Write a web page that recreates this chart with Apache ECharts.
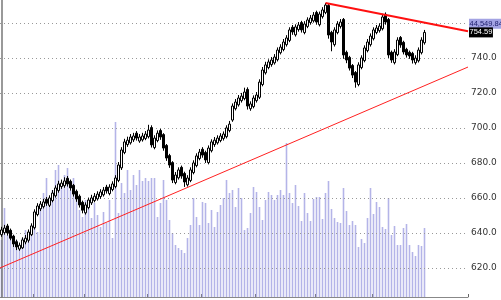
<!DOCTYPE html>
<html>
<head>
<meta charset="utf-8">
<script src="https://cdn.jsdelivr.net/npm/echarts@6/dist/echarts.min.js"></script>
<style>html,body{margin:0;padding:0;background:#fff;}#c{width:501px;height:300px;}</style>
</head>
<body>
<div id="c"></div>
<script>
const opens = [639.0,640.2,644.0,641.5,638.2,635.0,630.8,631.5,634.8,635.8,639.0,643.0,650.5,653.8,655.0,659.2,655.8,658.5,661.2,664.2,
666.5,667.0,671.2,669.5,667.2,663.8,661.0,657.5,651.5,654.5,657.2,658.5,659.5,660.8,661.8,666.2,662.5,664.8,666.5,670.0,
677.2,686.0,690.5,691.5,693.2,697.0,692.5,693.2,694.0,695.0,700.2,688.8,692.8,698.5,696.2,690.0,684.2,680.2,668.8,671.5,
677.5,674.0,667.5,670.0,674.5,678.5,682.5,687.8,686.0,680.2,687.0,690.5,691.5,692.8,694.0,695.0,698.5,704.5,711.0,713.2,
715.6,716.8,722.0,711.0,712.2,715.6,717.5,724.8,731.5,734.5,736.2,737.2,739.0,743.0,744.8,747.6,750.0,757.5,753.2,756.2,
760.2,754.5,758.0,760.2,761.2,766.0,759.0,763.6,766.0,770.0,754.6,747.6,754.5,758.0,762.0,743.2,740.3,735.7,731.7,724.8,
734.5,738.5,744.2,747.6,751.0,754.5,755.6,756.7,764.9,762.0,743.2,737.3,741.9,751.7,748.9,744.9,743.2,742.6,737.3,738.4,
743.0,748.7];
const closes = [641.7,642.8,640.0,637.0,633.7,632.0,633.0,636.0,637.0,640.5,644.0,652.0,655.4,656.5,657.7,657.0,660.0,662.8,665.7,668.0,
668.5,669.7,668.0,665.7,662.2,659.4,656.0,653.0,656.0,658.8,660.0,661.0,662.2,663.4,664.5,664.0,666.2,668.0,671.4,678.8,
687.4,692.0,693.0,694.8,695.4,694.2,694.8,695.4,696.5,698.8,690.3,694.2,697.0,694.8,688.5,682.8,678.8,670.2,673.1,676.0,
672.5,669.1,671.4,676.0,680.0,684.0,686.2,684.5,681.7,688.5,692.0,693.0,694.2,695.4,696.5,700.0,702.2,712.5,714.8,717.1,
718.2,720.5,712.5,713.7,717.1,718.8,726.2,733.1,736.0,737.7,738.8,740.5,744.5,746.2,749.1,751.4,756.0,754.8,757.7,758.8,
756.0,759.4,761.7,762.8,764.5,760.5,765.1,767.4,770.2,753.1,749.1,756.0,759.4,760.5,741.7,738.8,734.2,730.2,726.2,736.0,
740.0,745.7,749.1,752.5,756.0,757.1,758.2,763.4,760.5,741.7,738.8,743.4,750.2,747.4,743.4,741.7,741.1,738.8,739.9,744.5,
750.2,754.59];
const lows = [637.8,639.0,638.5,635.8,632.0,630.2,629.8,630.8,633.5,634.5,638.2,642.0,649.5,652.5,654.0,655.5,654.8,657.5,660.2,663.0,
665.2,665.8,666.5,664.2,660.8,657.8,654.5,651.2,650.5,653.5,656.0,657.5,658.5,659.5,660.8,662.5,661.5,663.8,665.5,669.0,
676.0,685.0,689.2,690.5,692.0,692.8,691.5,692.2,693.0,694.0,688.8,687.8,691.8,693.2,687.0,681.2,677.2,668.5,667.8,670.5,
671.0,666.3,666.5,669.0,673.5,677.5,681.5,683.0,680.0,679.2,686.0,689.2,690.5,691.8,692.8,694.0,697.5,703.5,710.0,712.2,
714.5,715.8,710.5,709.8,711.2,714.5,716.5,723.8,730.5,733.5,735.0,736.2,738.0,742.0,743.8,746.5,749.0,753.2,752.2,755.0,
754.5,753.5,757.0,759.0,760.2,759.0,758.0,762.5,765.0,751.0,743.8,746.5,753.5,756.8,739.5,737.0,732.8,728.5,723.0,723.8,
733.5,737.5,743.2,746.5,750.0,753.5,754.5,755.7,759.0,740.0,737.2,736.3,741.0,745.8,742.0,740.2,739.5,736.8,736.2,737.4,
742.0,747.6];
const highs = [643.5,644.6,645.2,642.5,639.0,636.2,634.5,637.5,638.8,642.0,645.5,653.5,657.0,658.2,659.5,660.5,661.5,664.5,667.2,669.8,
670.5,671.8,672.5,670.5,668.0,664.8,662.0,658.5,657.5,660.2,661.8,662.8,663.8,665.0,666.2,667.5,667.8,669.5,673.0,680.5,
689.0,693.8,695.0,696.5,697.2,698.2,696.5,697.2,698.2,701.8,701.5,695.8,698.6,699.5,697.0,690.8,685.2,681.0,674.8,677.5,
678.5,675.0,673.0,677.5,681.5,685.5,688.0,689.0,687.0,690.0,693.5,694.8,695.8,697.0,698.0,701.5,704.0,714.0,716.5,718.8,
720.0,723.0,723.2,715.2,718.6,720.5,727.8,734.8,737.8,739.2,740.5,742.2,746.0,747.8,750.8,753.0,757.5,758.8,759.2,760.5,
761.2,761.0,763.2,764.5,766.2,767.0,766.5,769.0,771.4,770.8,755.5,757.5,761.0,762.2,762.8,744.2,741.2,736.5,732.5,737.5,
741.5,747.2,750.8,754.0,757.5,758.8,759.8,765.2,766.0,762.8,744.2,745.0,751.8,752.5,749.8,745.8,744.2,743.5,741.5,746.0,
751.8,756.0];
const volumes = [57,89,62,67,60,57,52,59,67,57,62,84,65,92,104,119,97,107,127,132,
114,122,129,107,119,100,87,80,97,90,79,94,82,70,85,74,97,59,175,84,
114,104,127,107,122,112,127,116,119,116,119,119,80,94,117,97,77,64,52,49,
47,44,59,72,99,80,72,95,94,74,87,70,85,92,99,117,104,107,90,109,
99,67,69,84,110,105,90,77,97,105,102,97,102,107,102,154,104,94,112,91,
76,104,84,76,98,100,100,78,104,116,88,79,75,74,109,86,72,76,72,50,
58,54,79,109,83,95,90,70,68,99,62,71,52,52,69,73,52,45,41,52,
51,69];
const slotCount = 156;
const categories = Array.from({length: slotCount}, (_, i) => 'D' + i);
const monthTickSlots = [11, 28, 49, 67, 85, 105, 124];
const supportLine = [[-0.5, 620.0], [155.5, 734.8]];
const resistanceLine = [[108, 771.4], [155.5, 755.2]];
const volumeLabel = '44,549.84';
const lastPriceLabel = '754.59';
const hiddenTickLabels = [760];

const candleData = opens.map((o, i) => [o, closes[i], lows[i], highs[i]]);

const chart = echarts.init(document.getElementById('c'), null, {renderer: 'canvas'});
chart.setOption({
  animation: false,
  backgroundColor: '#fff',
  grid: {left: 0, right: 33, top: 0, bottom: 3},
  xAxis: [{
    type: 'category', data: categories, boundaryGap: true,
    axisLine: {show: true, lineStyle: {color: '#888', width: 1}},
    axisTick: {show: true, inside: true, length: 3, lineStyle: {color: '#666'},
      interval: (idx) => monthTickSlots.includes(idx)},
    axisLabel: {show: false}, splitLine: {show: false}
  }, {
    type: 'value', min: -0.5, max: slotCount - 0.5, show: false
  }],
  yAxis: [{
    type: 'value', position: 'right', min: 603.4, max: 773.1, splitNumber: 8, z: 3,
    axisLine: {show: true, lineStyle: {color: '#777', width: 1.5}},
    axisTick: {show: false},
    axisLabel: {show: true, fontSize: 9, color: '#333', margin: 3, fontFamily: 'DejaVu Sans',
      showMinLabel: false, showMaxLabel: false,
      formatter: v => hiddenTickLabels.includes(Math.round(v)) ? '' : v.toFixed(1)},
    splitLine: {show: true, showMinLine: false, showMaxLine: false,
      lineStyle: {color: '#999', type: [1, 3], width: 1}}
  }, {
    type: 'value', min: 0, max: 297, show: false
  }],
  series: [{
    type: 'bar', xAxisIndex: 0, yAxisIndex: 1, data: volumes, barWidth: 1.6, z: 1,
    itemStyle: {color: '#b4b4e8'}
  }, {
    type: 'candlestick', xAxisIndex: 0, yAxisIndex: 0, data: candleData, barWidth: 3, z: 4,
    itemStyle: {color: '#fff', color0: '#000', borderColor: '#000', borderColor0: '#000', borderWidth: 1},
    markLine: {
      silent: true, symbol: 'none', animation: false, z: 10,
      lineStyle: {color: 'rgba(0,0,0,0)', width: 0},
      label: {show: true, position: 'end', distance: 1, fontSize: 7.5, lineHeight: 10,
        fontFamily: '"Liberation Sans Narrow", "Liberation Sans", sans-serif', padding: [0, 0.5]},
      data: [
        {yAxis: 759.6, label: {formatter: volumeLabel, backgroundColor: '#a3a3e3', color: '#1c1c6a'}},
        {yAxis: 754.59, label: {formatter: lastPriceLabel, backgroundColor: '#000', color: '#fff'}}
      ]
    }
  }, {
    type: 'line', xAxisIndex: 1, yAxisIndex: 0, data: supportLine, symbol: 'none', z: 5,
    lineStyle: {color: '#ff2020', width: 1}
  }, {
    type: 'line', xAxisIndex: 1, yAxisIndex: 0, data: resistanceLine, symbol: 'none', z: 5,
    lineStyle: {color: '#ff1010', width: 2}
  }]
});
</script>
</body>
</html>
